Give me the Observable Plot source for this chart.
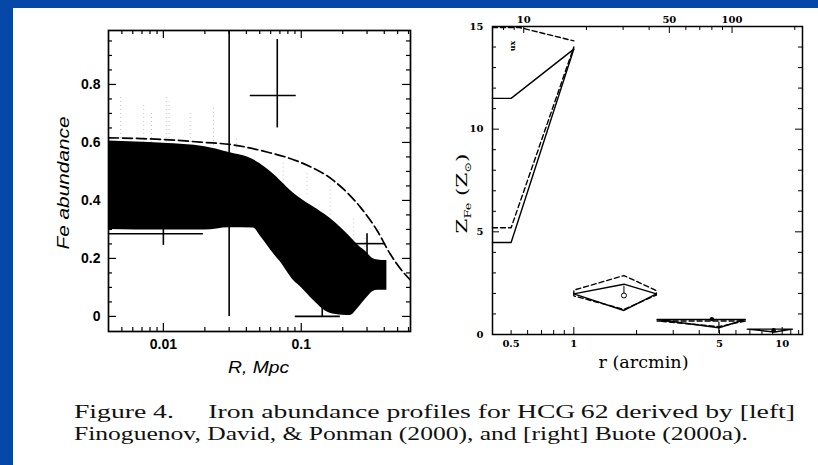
<!DOCTYPE html>
<html><head><meta charset="utf-8">
<script src="https://cdn.jsdelivr.net/npm/d3@7"></script>
<script src="https://cdn.jsdelivr.net/npm/@observablehq/plot@0.6"></script>
<style>
html,body{margin:0;padding:0;}
body{width:818px;height:465px;background:#0548a8;position:relative;overflow:hidden;}
#paper{position:absolute;left:13px;top:8px;right:0;bottom:0;background:#fff;}
.abs{position:absolute;top:0;}
</style></head><body>
<div id="paper"></div>
<div id="left" class="abs" style="left:0px"></div>
<div id="right" class="abs" style="left:420px"></div>
<svg id="cap" class="abs" style="left:0px" width="818" height="465"></svg>
<script>
// ---------- LEFT PANEL: Finoguenov, David & Ponman (2000) ----------
const bandR  = [0.004,0.01,0.02,0.03,0.045,0.05,0.063,0.07,0.088,0.1,0.123,0.16,0.2,0.226,0.26,0.3,0.33,0.36,0.418];
const bandHi = [0.605,0.597,0.585,0.565,0.54,0.527,0.49,0.47,0.425,0.405,0.377,0.34,0.30,0.275,0.245,0.22,0.20,0.195,0.193];
const bandLo = [0.30,0.298,0.298,0.306,0.305,0.28,0.216,0.19,0.124,0.10,0.055,0.012,0.004,0.003,0.03,0.065,0.085,0.09,0.09];

const modelR  = [0.004,0.01,0.02,0.0305,0.0563,0.098,0.171,0.268,0.354,0.441,0.55,0.62];
const modelFe = [0.616,0.61,0.60,0.593,0.567,0.532,0.469,0.377,0.297,0.216,0.152,0.125];

const errR    = [0.01, 0.03, 0.067, 0.142, 0.30];
const errRlo  = [0.003, 0.02, 0.0427, 0.0905, 0.245];
const errRhi  = [0.0195, 0.045, 0.092, 0.192, 0.41];
const errFe   = [0.285, 0.45, 0.762, 0.0, 0.251];
const errFeLo = [0.245, 0.0, 0.65, 0.0, 0.20];
const errFeHi = [0.32, 1.2, 0.955, 0.045, 0.285];

const scatR  = [0.0049,0.0072,0.0082,0.0105,0.011,0.0157,0.0231,0.034,0.074,0.11,0.162,0.24,0.29];
const scatLo = [0.60,0.60,0.60,0.60,0.60,0.60,0.59,0.58,0.47,0.42,0.335,0.25,0.21];
const scatHi = [0.76,0.73,0.70,0.765,0.74,0.71,0.72,0.62,0.53,0.50,0.47,0.34,0.27];

const leftXLabels = [0.01, 0.1];
const leftYLabels = [0, 0.2, 0.4, 0.6, 0.8];
const leftXMinor = [0.005,0.006,0.007,0.008,0.009,0.02,0.03,0.04,0.05,0.06,0.07,0.08,0.09,0.2,0.3,0.4,0.5,0.6];
const leftYMinor = [0.05,0.1,0.15,0.25,0.3,0.35,0.45,0.5,0.55,0.65,0.7,0.75,0.85,0.9,0.95];

// ---------- RIGHT PANEL: Buote (2000a) ----------
const kpcPerArcmin = 17.4;
const innerR   = [0.407, 0.5, 1.0];
const solidLo  = [4.48, 4.48, 13.9];
const solidHi  = [11.5, 11.5, 13.9];
const dashLo   = [5.2, 5.2, 14.0];
const dashHiR  = [0.407, 0.55, 1.0];
const dashHi   = [14.95, 14.95, 14.3];

const bin2R     = [1.0, 1.74, 2.49, 1.74, 1.0];
const bin2Solid = [1.98, 2.45, 1.98, 1.17, 1.98];
const bin2DashR = [1.0, 1.0, 1.74, 2.49, 2.49, 1.74, 1.0];
const bin2Dash  = [1.88, 2.16, 2.87, 2.14, 1.92, 1.22, 1.88];

const bin3R     = [2.51, 6.65, 4.97, 2.51];
const bin3Solid = [0.73, 0.73, 0.33, 0.73];
const bin3Dash  = [0.66, 0.66, 0.38, 0.66];

const bin4R     = [6.8, 11.2, 9.2, 6.8];
const bin4Solid = [0.26, 0.26, 0.12, 0.26];

const centR  = [1.74, 4.6, 9.1];
const centZ  = [1.9, 0.75, 0.21];

const rightXLabels = [0.5, 1, 5, 10];
const rightXMinor  = [0.6,0.7,0.8,0.9,2,3,4,6,7,8,9,11,12];
const kpcLabels    = [10, 50, 100];
const kpcMinor     = [8, 9, 20, 30, 40, 60, 70, 80, 90, 200];
const rightYLabels = [0, 5, 10, 15];
const rightYMinor  = [1,2,3,4,6,7,8,9,11,12,13,14];

const captionLines = [
  "Figure 4.\u2003 Iron abundance profiles for HCG\u200962 derived by [left]",
  "Finoguenov, David, & Ponman (2000), and [right] Buote (2000a)."
];

// ---------- helpers ----------
function sideTicks({bottomMaj, bottomMin, topMaj, topMin, yMaj, yMin, fw, fh, maj, min, sw}) {
  const o = {stroke: "black", strokeWidth: sw};
  return [
    Plot.tickX(bottomMaj, {x: d => d, insetTop: fh - maj, ...o}),
    Plot.tickX(bottomMin, {x: d => d, insetTop: fh - min, ...o}),
    Plot.tickX(topMaj, {x: d => d, insetBottom: fh - maj, ...o}),
    Plot.tickX(topMin, {x: d => d, insetBottom: fh - min, ...o}),
    Plot.tickY(yMaj, {y: d => d, insetRight: fw - maj, ...o}),
    Plot.tickY(yMin, {y: d => d, insetRight: fw - min, ...o}),
    Plot.tickY(yMaj, {y: d => d, insetLeft: fw - maj, ...o}),
    Plot.tickY(yMin, {y: d => d, insetLeft: fw - min, ...o})
  ];
}
function fitText(svg, content, len) {
  d3.select(svg).selectAll("text").filter(function(){return this.textContent === content;})
    .attr("textLength", len).attr("lengthAdjust", "spacingAndGlyphs");
}

// ---------- left plot ----------
const bandData  = bandR.map((r, i) => ({r, lo: bandLo[i], hi: bandHi[i]}));
const modelData = modelR.map((r, i) => ({r, fe: modelFe[i]}));
const errData   = errR.map((r, i) => ({r, rlo: errRlo[i], rhi: errRhi[i], fe: errFe[i], lo: errFeLo[i], hi: errFeHi[i]}));
const scatData  = scatR.map((r, i) => ({r, lo: scatLo[i], hi: scatHi[i]}));

const sansFont = "Liberation Sans, Arial, sans-serif";
const left = Plot.plot({
  width: 440, height: 390,
  marginLeft: 108, marginRight: 30, marginTop: 30, marginBottom: 59,
  x: {type: "log", domain: [0.004, 0.62]},
  y: {domain: [-0.052, 0.986]},
  style: {background: "transparent", fontFamily: sansFont},
  marks: [
    Plot.ruleX(scatData, {x: "r", y1: "lo", y2: "hi", stroke: "#c4c4c4", strokeWidth: 1, strokeDasharray: "1,3"}),
    Plot.areaY(bandData, {x: "r", y1: "lo", y2: "hi", fill: "black", curve: "monotone-x"}),
    Plot.line(modelData, {x: "r", y: "fe", stroke: "black", strokeWidth: 1.7, strokeDasharray: "10,4", curve: "monotone-x", clip: true}),
    Plot.ruleY(errData, {y: "fe", x1: "rlo", x2: "rhi", stroke: "black", strokeWidth: 1.6, clip: true}),
    Plot.ruleX(errData, {x: "r", y1: "lo", y2: "hi", stroke: "black", strokeWidth: 1.6, clip: true}),
    ...sideTicks({bottomMaj: leftXLabels, bottomMin: leftXMinor, topMaj: leftXLabels, topMin: leftXMinor,
      yMaj: leftYLabels, yMin: leftYMinor, fw: 302, fh: 301, maj: 8, min: 4, sw: 1.2}),
    Plot.frame({stroke: "black", strokeWidth: 1.7}),
    Plot.axisX({ticks: leftXLabels, tickFormat: d => String(d), tickSize: 0, tickPadding: 8,
      fontSize: 14, fontWeight: "bold", fontFamily: sansFont, label: null}),
    Plot.axisY({ticks: leftYLabels, tickFormat: d => d === 0 ? "0" : d.toFixed(1), tickSize: 0, tickPadding: 8,
      fontSize: 14, fontWeight: "bold", fontFamily: sansFont, label: null}),
    Plot.text(["R, Mpc"], {frameAnchor: "bottom", dy: 36, dx: -1, textAnchor: "middle", lineAnchor: "middle",
      fontSize: 16, fontStyle: "italic", fontFamily: sansFont}),
    Plot.text(["Fe abundance"], {frameAnchor: "left", dx: -45, dy: 2, rotate: -90, textAnchor: "middle", lineAnchor: "middle",
      fontSize: 16, fontStyle: "italic", fontFamily: sansFont})
  ]
});
document.getElementById("left").append(left);
fitText(left, "R, Mpc", 61);
fitText(left, "Fe abundance", 133);

// ---------- right plot ----------
const lineRows = [];
function addLine(name, xs, ys) { xs.forEach((x, i) => lineRows.push({name, x, y: ys[i]})); }
addLine("solidLo", innerR, solidLo);
addLine("solidHi", innerR, solidHi);
addLine("bin2", bin2R, bin2Solid);
addLine("bin3", bin3R, bin3Solid);
addLine("bin4", bin4R, bin4Solid);
const dashRows = [];
function addDash(name, xs, ys) { xs.forEach((x, i) => dashRows.push({name, x, y: ys[i]})); }
addDash("dashLo", innerR, dashLo);
addDash("dashHi", dashHiR, dashHi);
addDash("bin2d", bin2DashR, bin2Dash);
addDash("bin3d", bin3R, bin3Dash);
const centData = centR.map((x, i) => ({x, y: centZ[i]}));

const serifFont = "DejaVu Serif, serif";
const right = Plot.plot({
  width: 398, height: 390,
  marginLeft: 72, marginRight: 16, marginTop: 26, marginBottom: 56,
  x: {type: "log", domain: [0.407, 12.52]},
  y: {domain: [0, 15]},
  style: {background: "transparent", fontFamily: serifFont},
  marks: [
    Plot.line(lineRows, {x: "x", y: "y", z: "name", stroke: "black", strokeWidth: 1.4}),
    Plot.line(dashRows, {x: "x", y: "y", z: "name", stroke: "black", strokeWidth: 1.4, strokeDasharray: "5,3"}),
    Plot.ruleX([centData[0]], {x: "x", y1: "y", y2: d => d.y + 0.45, stroke: "black", strokeWidth: 1}),
    Plot.ruleX([centData[1]], {x: d => 4.97, y1: 0.05, y2: 0.6, stroke: "black", strokeWidth: 1.2}),
    Plot.dot([centData[0]], {x: "x", y: "y", r: 2.5, stroke: "black", fill: "white", strokeWidth: 1}),
    Plot.dot(centData.slice(1), {x: "x", y: "y", r: 2.2, fill: "black"}),
    Plot.text(["ux"], {x: 0.506, y: 14.05, rotate: -90, fontSize: 8, fontWeight: "bold", fontFamily: serifFont}),
    ...sideTicks({bottomMaj: [1, 10], bottomMin: rightXMinor.concat([0.5, 5]),
      topMaj: kpcLabels.map(k => k / kpcPerArcmin), topMin: kpcMinor.map(k => k / kpcPerArcmin),
      yMaj: rightYLabels, yMin: rightYMinor, fw: 310, fh: 308, maj: 7, min: 4, sw: 1}),
    Plot.frame({stroke: "black", strokeWidth: 1.5}),
    Plot.axisX({ticks: rightXLabels, tickFormat: d => String(d), tickSize: 0, tickPadding: 5,
      fontSize: 10, fontWeight: "bold", fontFamily: serifFont, label: null}),
    Plot.axisX({anchor: "top", ticks: kpcLabels.map(k => k / kpcPerArcmin), tickFormat: d => String(Math.round(d * kpcPerArcmin)),
      tickSize: 0, tickPadding: 4, fontSize: 10, fontWeight: "bold", fontFamily: serifFont, label: null}),
    Plot.axisY({ticks: rightYLabels, tickFormat: d => String(d), tickSize: 0, tickPadding: 9,
      fontSize: 10, fontWeight: "bold", fontFamily: serifFont, label: null}),
    Plot.text(["r (arcmin)"], {frameAnchor: "bottom", dy: 28, dx: -4, textAnchor: "middle", lineAnchor: "middle",
      fontSize: 16, fontFamily: serifFont}),
    Plot.text(["Z_Fe (Z_sun)"], {frameAnchor: "left", dx: -30, dy: 13, rotate: -90, textAnchor: "middle", lineAnchor: "middle",
      fontSize: 15, fontFamily: serifFont})
  ]
});
document.getElementById("right").append(right);
fitText(right, "r (arcmin)", 90);
d3.select(right).selectAll("text").filter(function(){return this.textContent === "Z_Fe (Z_sun)";})
  .each(function() {
    const t = d3.select(this);
    t.text(null);
    t.append("tspan").text("Z");
    t.append("tspan").attr("dy", 4).attr("font-size", 9).text("Fe");
    t.append("tspan").attr("dy", -4).text(" (Z");
    t.append("tspan").attr("dy", 4).attr("font-size", 9).text("\u2299");
    t.append("tspan").attr("dy", -4).text(")");
  })
  .attr("textLength", 80).attr("lengthAdjust", "spacingAndGlyphs");

// ---------- caption ----------
const cap = d3.select("#cap");
const capY = [418, 440], capW = [721, 674];
captionLines.forEach((line, i) => {
  cap.append("text")
    .attr("x", 74).attr("y", capY[i])
    .attr("font-family", "Liberation Serif, Times New Roman, serif")
    .attr("font-size", 19)
    .attr("fill", "#111")
    .attr("xml:space", "preserve")
    .attr("textLength", capW[i]).attr("lengthAdjust", "spacingAndGlyphs")
    .text(line);
});
</script></body></html>
